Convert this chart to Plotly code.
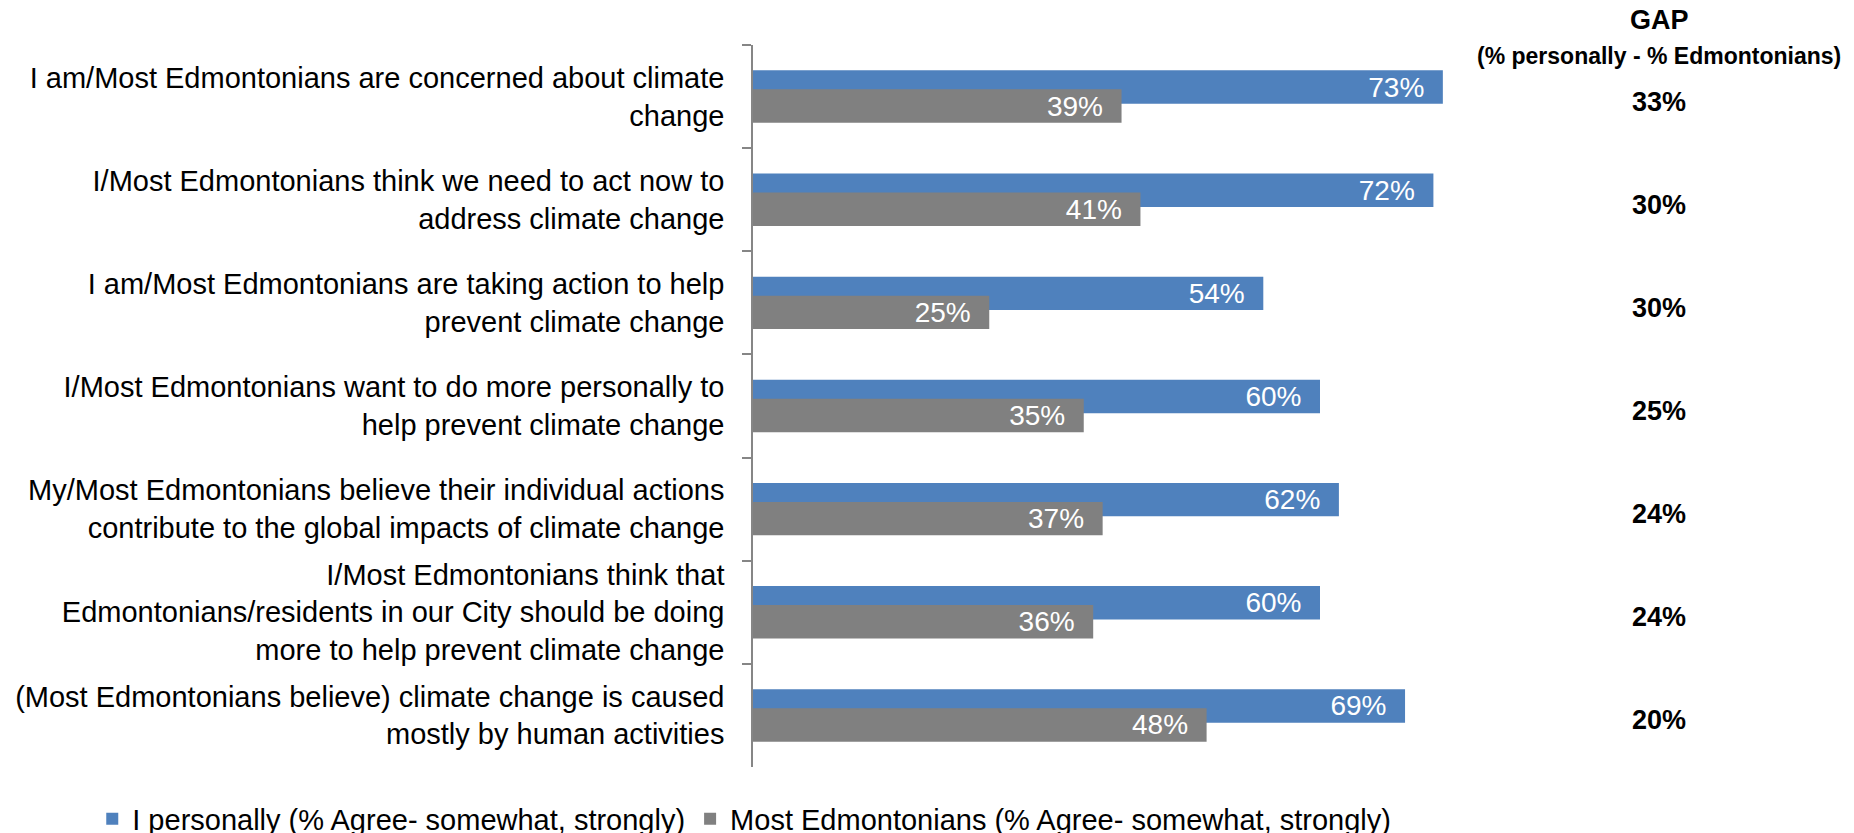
import plotly.graph_objects as go

statements = [
    "I am/Most Edmontonians are concerned about climate<br>change",
    "I/Most Edmontonians think we need to act now to<br>address climate change",
    "I am/Most Edmontonians are taking action to help<br>prevent climate change",
    "I/Most Edmontonians want to do more personally to<br>help prevent climate change",
    "My/Most Edmontonians believe their individual actions<br>contribute to the global impacts of climate change",
    "I/Most Edmontonians think that<br>Edmontonians/residents in our City should be doing<br>more to help prevent climate change",
    "(Most Edmontonians believe) climate change is caused<br>mostly by human activities",
]
personally = [73, 72, 54, 60, 62, 60, 69]
edmontonians = [39, 41, 25, 35, 37, 36, 48]
gap = [33, 30, 30, 25, 24, 24, 20]

FONT = "Liberation Sans, Arial, sans-serif"
BLUE = "#4F81BD"
GREY = "#808080"

fig = go.Figure()
fig.add_trace(go.Bar(
    name="I personally (% Agree- somewhat, strongly)",
    y=statements, x=personally, orientation="h",
    offset=-0.254, width=0.324,
    marker=dict(color=BLUE, line=dict(width=0)),
    text=[f"{v}%\u00a0\u00a0" for v in personally],
    textposition="inside", insidetextanchor="end", constraintext="none",
    textfont=dict(color="white", size=28, family=FONT),
))
fig.add_trace(go.Bar(
    name="Most Edmontonians (% Agree- somewhat, strongly)",
    y=statements, x=edmontonians, orientation="h",
    offset=-0.07, width=0.324,
    marker=dict(color=GREY, line=dict(width=0)),
    text=[f"{v}%\u00a0\u00a0" for v in edmontonians],
    textposition="inside", insidetextanchor="end", constraintext="none",
    textfont=dict(color="white", size=28, family=FONT),
))

# gap column on the right
gx = 1.199
for s, g in zip(statements, gap):
    fig.add_annotation(x=gx, xref="paper", y=s, yref="y", text=f"<b>{g}%</b>",
                       showarrow=False, yshift=-5, xanchor="center",
                       font=dict(size=27, color="black", family=FONT))
fig.add_annotation(x=gx, xref="paper", y=1.0346, yref="paper", text="<b>GAP</b>",
                   showarrow=False, xanchor="center", yanchor="middle",
                   font=dict(size=27, color="black", family=FONT))
fig.add_annotation(x=gx, xref="paper", y=0.9848, yref="paper",
                   text="<b>(% personally - % Edmontonians)</b>",
                   showarrow=False, xanchor="center", yanchor="middle",
                   font=dict(size=23, color="black", family=FONT))

fig.update_layout(
    width=1854, height=833,
    barmode="overlay",
    paper_bgcolor="white", plot_bgcolor="white",
    font=dict(family=FONT, color="black", size=29),
    margin=dict(l=745, r=353, t=37, b=74, autoexpand=False),
    showlegend=True,
    legend=dict(orientation="h", xref="paper", yref="paper",
                x=-0.874, y=-0.072, xanchor="left", yanchor="middle",
                font=dict(size=29, family=FONT),
                traceorder="normal", bgcolor="rgba(0,0,0,0)"),
    xaxis=dict(range=[0, 80], visible=False, fixedrange=True),
    yaxis=dict(range=[6.5, -0.5], tickson="boundaries", ticks="outside",
               ticklen=9, tickcolor="#868686", tickwidth=1.5,
               showline=True, linecolor="#868686", linewidth=1.5,
               showgrid=False, ticklabelstandoff=21,
               tickfont=dict(size=29, family=FONT, color="black")),
)

fig.write_html("out.html")
